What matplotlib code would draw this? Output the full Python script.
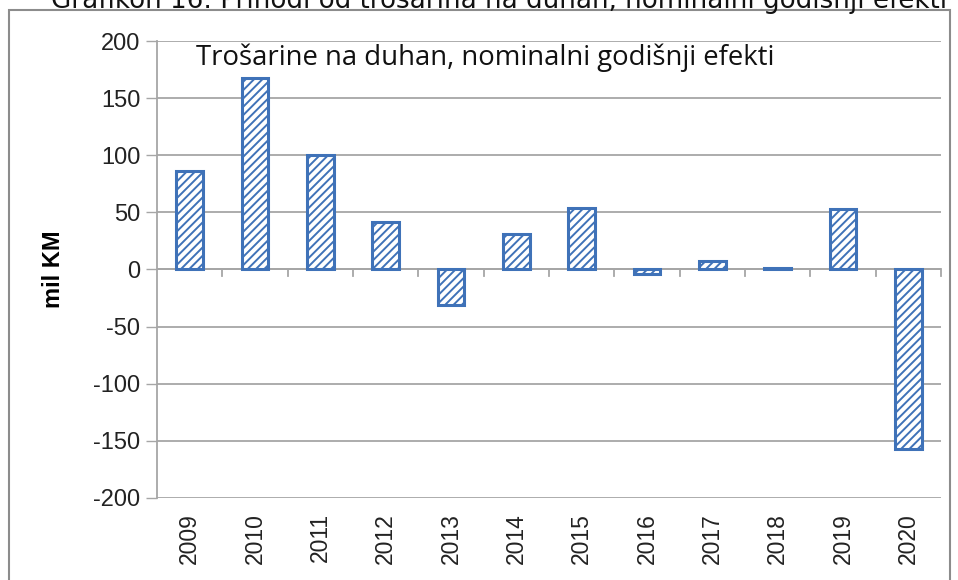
import matplotlib.pyplot as plt
from matplotlib.patches import Rectangle

years = ["2009", "2010", "2011", "2012", "2013", "2014",
         "2015", "2016", "2017", "2018", "2019", "2020"]
effects = [86, 168, 100, 42, -31, 31, 54, -4, 7, 1, 53, -157]

blue = "#3f72b8"
grid_grey = "#a6a6a6"

plt.rcParams["hatch.linewidth"] = 1.4
plt.rcParams["hatch.color"] = blue
plt.rcParams["axes.unicode_minus"] = False

fig = plt.figure(figsize=(9.58, 5.8), dpi=100)
ax = fig.add_axes([0.1639, 0.1414, 0.8184, 0.7879])

x = list(range(len(years)))
ax.bar(x, effects, width=0.41, color="white", edgecolor=blue,
       linewidth=2.2, hatch="////", zorder=3)

ax.set_xlim(-0.5, len(years) - 0.5)
ax.set_ylim(-200, 200)
ax.set_yticks(range(-200, 201, 50))
ax.tick_params(axis="y", labelsize=17, length=8, width=1, color=grid_grey,
               pad=4, labelcolor="#222222")
for lbl in ax.get_yticklabels():
    lbl.set_fontfamily("Liberation Sans")
ax.grid(axis="y", color=grid_grey, linewidth=1.3, zorder=0)

# year labels sit under the plot, zero line carries the category ticks
ax.set_xticks(x)
ax.set_xticklabels(years, rotation=90, fontsize=16.5, fontfamily="Liberation Sans",
                   color="#222222")
ax.tick_params(axis="x", length=0, pad=11)

for s in ["top", "right", "bottom"]:
    ax.spines[s].set_visible(False)
ax.spines["left"].set_color(grid_grey)
ax.spines["left"].set_linewidth(1.3)

ax.axhline(0, color=grid_grey, linewidth=1.3, zorder=2)
for i in range(len(years)):
    ax.plot([i + 0.5, i + 0.5], [0, -5.5], color=grid_grey, linewidth=1.3,
            zorder=2, clip_on=False)

ax.set_ylabel("mil KM", fontsize=17, fontweight="bold", fontfamily="Liberation Sans")
ax.yaxis.set_label_coords(-0.118, 0.5)

ax.text(0.05, 0.963, "Trošarine na duhan, nominalni godišnji efekti",
        transform=ax.transAxes, fontsize=19.8, fontfamily="Open Sans",
        va="center", ha="left", color="#111111", zorder=5)

fig.add_artist(Rectangle((9 / 958, -0.1), 941 / 958, 1 - 10 / 580 + 0.1,
                         transform=fig.transFigure, fill=False,
                         edgecolor="#8c8c8c", linewidth=1.5))

fig.text(0.053, 1.0, "Grafikon 16: Prihodi od trošarina na duhan, nominalni godišnji efekti",
         fontsize=18.8, fontfamily="DejaVu Sans", va="center", ha="left", color="#111111")

fig.savefig("out.png", dpi=100)
